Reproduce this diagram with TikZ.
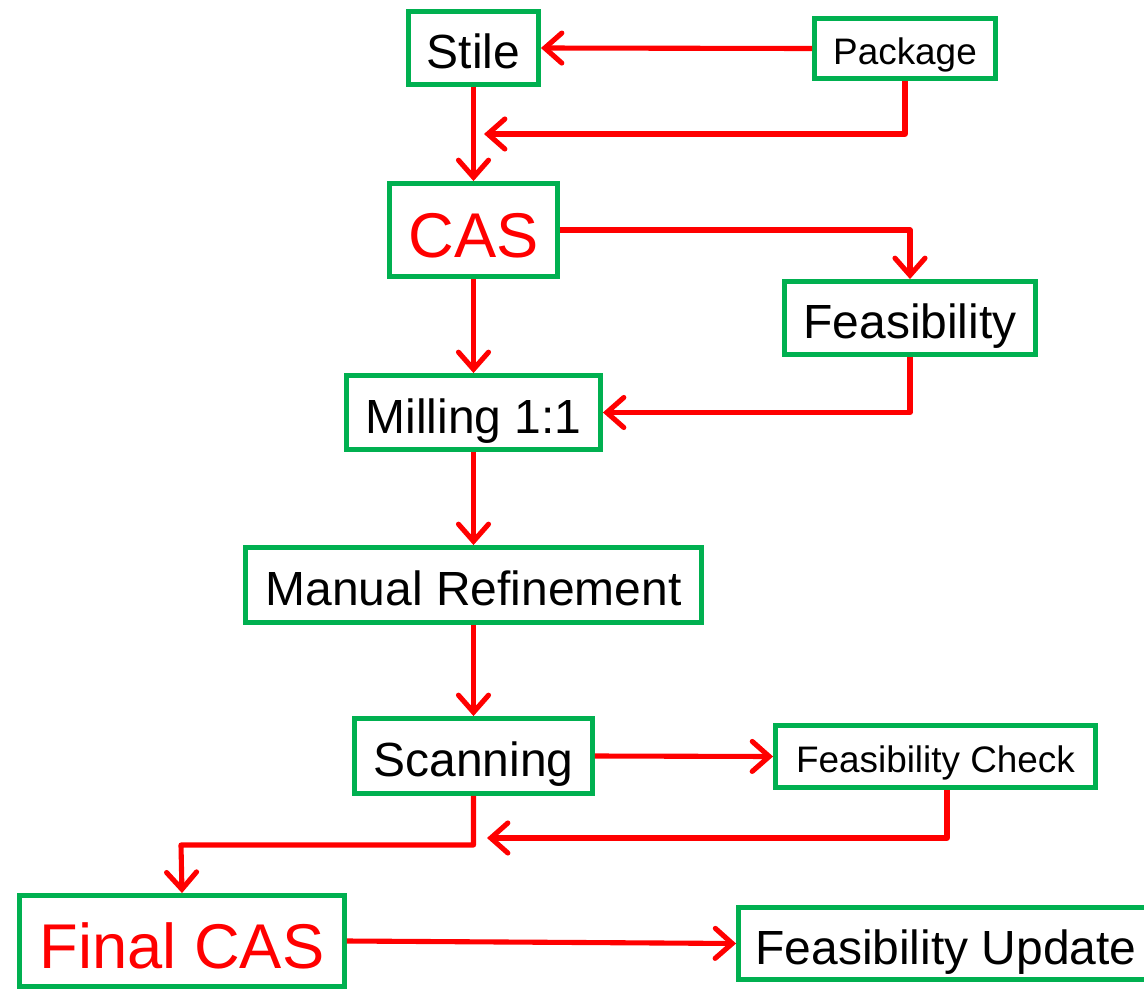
\documentclass[tikz,border=0pt]{standalone}
\usepackage{fontspec}
\setmainfont{Liberation Sans}
\usetikzlibrary{arrows.meta}
\definecolor{boxgreen}{RGB}{0,176,80}
\definecolor{flowred}{RGB}{255,0,0}

\tikzset{
  stepbox/.style={draw=boxgreen, line width=2.8pt, fill=white, inner sep=0pt,
    text height=25.9pt, text depth=2.5pt,
    font=\fontsize{27.3}{32}\selectfont},
  smallbox/.style={stepbox, text height=20pt, text depth=1.9pt,
    font=\fontsize{21}{25}\selectfont},
  bigbox/.style={stepbox, text=flowred, text height=34.2pt, text depth=3.2pt,
    font=\fontsize{36}{42}\selectfont},
  flow/.style={draw=flowred, line width=2.9pt, line join=round,
    -{Straight Barb[length=3.4mm,width=6mm,line cap=round]}}
}

\begin{document}
\begin{tikzpicture}[x=0.02cm, y=-0.02cm]
  \useasboundingbox (0,0) rectangle (1144,991);
  % boxes
  \node[stepbox, minimum width=2.6cm, minimum height=1.46cm] (stile) at (473.5,48) {Stile};
  \node[smallbox, minimum width=3.62cm, minimum height=1.2cm] (pack) at (905,48.5) {Package};
  \node[bigbox, minimum width=3.36cm, minimum height=1.86cm] (cas) at (473.5,230) {CAS};
  \node[stepbox, minimum width=5.02cm, minimum height=1.46cm] (feas) at (910,318) {Feasibility};
  \node[stepbox, minimum width=5.08cm, minimum height=1.48cm] (mill) at (473.5,412.5) {Milling 1:1};
  \node[stepbox, minimum width=9.12cm, minimum height=1.5cm] (manual) at (473.5,585) {Manual Refinement};
  \node[stepbox, minimum width=4.76cm, minimum height=1.5cm] (scan) at (473.5,756) {Scanning};
  \node[smallbox, minimum width=6.4cm, minimum height=1.24cm] (check) at (935.5,756.5) {Feasibility Check};
  \node[bigbox, minimum width=6.5cm, minimum height=1.82cm] (final) at (182,941) {Final CAS};
  \node[stepbox, minimum width=8.3cm, minimum height=1.44cm] (update) at (946,943.5) {Feasibility Update};
  % free ends
  \coordinate (packend) at (484,134);
  \coordinate (checkend) at (487,838);
  \coordinate (scanbend) at (181,845);
  % connectors
  \draw[flow] (pack.west) -- (stile.east);
  \draw[flow] (pack.south) |- (packend);
  \draw[flow] (stile.south) -- (cas.north);
  \draw[flow] (cas.east) -| (feas.north);
  \draw[flow] (cas.south) -- (mill.north);
  \draw[flow] (feas.south) |- (mill.east);
  \draw[flow] (mill.south) -- (manual.north);
  \draw[flow] (manual.south) -- (scan.north);
  \draw[flow] (scan.east) -- (check.west);
  \draw[flow] ([xshift=0.23cm]check.south) |- (checkend);
  \draw[flow] (scan.south) |- (scanbend) -- (final.north);
  \draw[flow] (final.east) -- (update.west);
\end{tikzpicture}
\end{document}
